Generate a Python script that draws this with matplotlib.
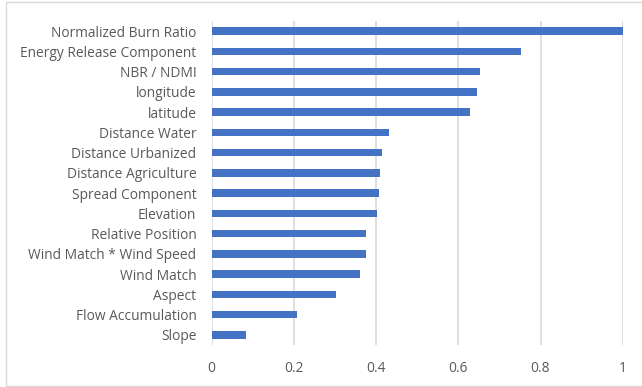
import matplotlib.pyplot as plt
from matplotlib.patches import Rectangle

# feature importance, top to bottom as shown
features = ['Normalized Burn Ratio', 'Energy Release Component', 'NBR / NDMI', 'longitude',
            'latitude', 'Distance Water', 'Distance Urbanized', 'Distance Agriculture',
            'Spread Component', 'Elevation', 'Relative Position', 'Wind Match * Wind Speed',
            'Wind Match', 'Aspect', 'Flow Accumulation', 'Slope']
importance = [1.0, 0.752, 0.653, 0.645, 0.628, 0.431, 0.414, 0.409,
              0.408, 0.401, 0.375, 0.375, 0.360, 0.302, 0.207, 0.083]
x_ticks = [0, 0.2, 0.4, 0.6, 0.8, 1]
x_tick_labels = ['0', '0.2', '0.4', '0.6', '0.8', '1']

plt.rcParams['font.family'] = ['Open Sans', 'DejaVu Sans']

fig = plt.figure(figsize=(6.42, 3.87), dpi=100)
ax = fig.add_axes([211.7 / 642, 1 - 345 / 387, 411 / 642, 324 / 387])

# outer chart border
fig.patches.append(Rectangle((6 / 642, 1.5 / 387), 1.0, 384 / 387, transform=fig.transFigure,
                             fill=False, edgecolor='#d9d9d9', linewidth=1.0))

y = list(range(len(features)))
ax.barh(y, importance, height=0.36, color='#4472C4', zorder=3)
ax.set_ylim(len(features) - 0.5, -0.5)
ax.set_xlim(0, 1)

ax.set_yticks(y)
ax.set_yticklabels(features, fontsize=9.9, color='#595959')
ax.set_xticks(x_ticks)
ax.set_xticklabels(x_tick_labels, fontsize=9.9, color='#595959')
ax.tick_params(axis='both', length=0)
ax.tick_params(axis='y', pad=11)
ax.tick_params(axis='x', pad=11.5)

ax.grid(axis='x', color='#d9d9d9', linewidth=1.2, zorder=0)
for side in ['top', 'right', 'bottom', 'left']:
    ax.spines[side].set_visible(False)

fig.savefig('out.png', dpi=100)
